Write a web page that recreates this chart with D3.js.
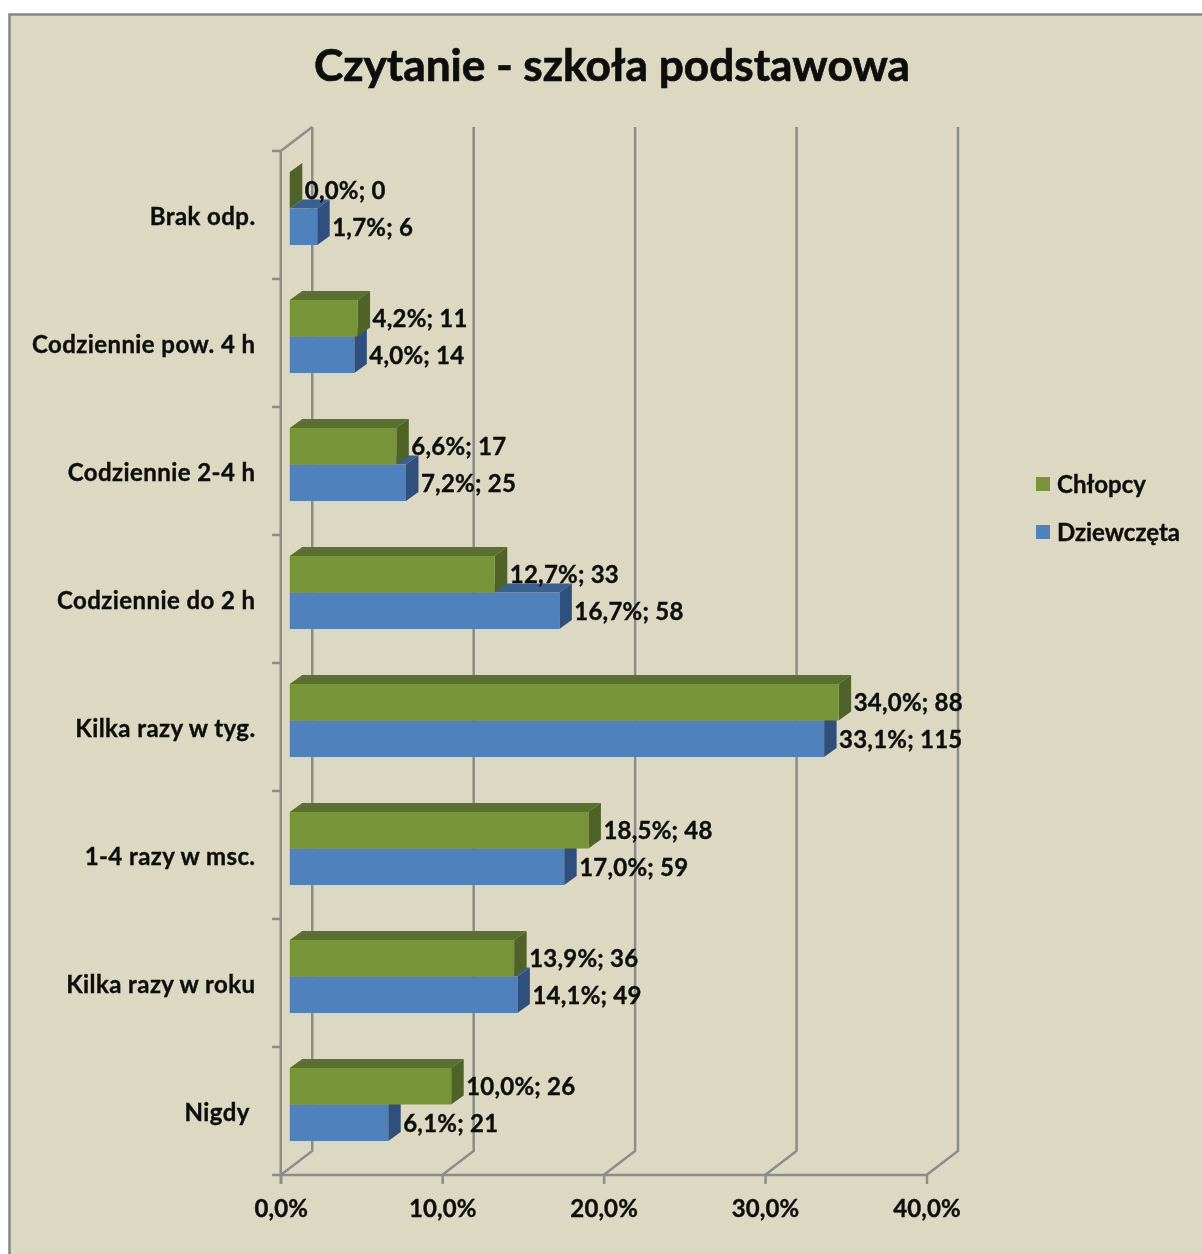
<!DOCTYPE html>
<html><head><meta charset="utf-8">
<script src="https://cdn.jsdelivr.net/npm/d3@7"></script>
<style>
html,body{margin:0;padding:0;background:#fff;overflow:hidden}
svg{display:block}
text{font-family:Lato,"Open Sans",sans-serif;font-weight:700;fill:#0b0b0b;white-space:pre;stroke:#0b0b0b;stroke-width:.35px;filter:url(#soft)}
</style></head><body>
<script>
const categories = ["Nigdy ","Kilka razy w roku","1-4 razy w msc.","Kilka razy w tyg.","Codziennie do 2 h","Codziennie 2-4 h","Codziennie pow. 4 h","Brak odp."];
const seriesNames = ["Chłopcy","Dziewczęta"];
const chlopcyPct = [10.0,13.9,18.5,34.0,12.7,6.6,4.2,0.0];
const chlopcyN = [26,36,48,88,33,17,11,0];
const dziewczetaPct = [6.1,14.1,17.0,33.1,16.7,7.2,4.0,1.7];
const dziewczetaN = [21,49,59,115,58,25,14,6];
const xTicks = [0,10,20,30,40];
const title = "Czytanie - szkoła podstawowa";

const W=1202,H=1254, dx=31.5, dy=-24, bdx=12.5, bdy=-9, barOff=9;
const pal={ "Chłopcy":{front:"#789439",side:"#4f6228",top:"#5a7030"},
            "Dziewczęta":{front:"#4f81bd",side:"#2f507c",top:"#3a6090"} };
const fmt=v=>v.toFixed(1).replace(".",",")+"%";

const svg=d3.select("body").append("svg").attr("width",W).attr("height",H);
svg.append("defs").append("filter").attr("id","soft").attr("x","-5%").attr("y","-20%").attr("width","110%").attr("height","140%")
   .append("feGaussianBlur").attr("stdDeviation",0.4);
svg.append("rect").attr("x",9.5).attr("y",14.5).attr("width",W+20).attr("height",H+20)
   .attr("fill","#ddd8c2").attr("stroke","#868686").attr("stroke-width",2.5);
svg.append("text").attr("x",612).attr("y",81).attr("text-anchor","middle").style("font-size","44.2px").style("stroke-width","0.7px").text(title);

const x=d3.scaleLinear().domain([0,40]).range([280.75,926.5]);
const yAxis=d3.scaleBand().domain(categories).range([1175,151]).padding(0);
const yBar=d3.scaleBand().domain(categories).range([1168.5,144.5]).paddingInner(0.43).paddingOuter(0.215);
const ySer=d3.scaleBand().domain(seriesNames).range([0,yBar.bandwidth()]);

const gridCol="#8c8c8c";
const grid=svg.append("g").attr("fill","none").attr("stroke",gridCol).attr("stroke-width",2.5);
const yTop=151,yBot=1175;
xTicks.forEach(t=>{
  grid.append("path").attr("d",d3.line()([[x(t),yBot],[x(t)+dx,yBot+dy],[x(t)+dx,yTop+dy]]));
});
grid.append("path").attr("d",d3.line()([[x(0),yTop],[x(0)+dx,yTop+dy]]));
grid.append("path").attr("d",d3.line()([[x(0),yTop],[x(0),yBot+9]]));
grid.append("path").attr("d",d3.line()([[x(0),yBot],[x(40),yBot]]));
const edges=categories.map(c=>yAxis(c)).concat([yBot]);
grid.selectAll("line.yt").data(edges).join("line").attr("class","yt")
  .attr("x1",272).attr("x2",x(0)).attr("y1",d=>d).attr("y2",d=>d);
const xa=svg.append("g").attr("transform",`translate(0,${yBot})`)
  .call(d3.axisBottom(x).tickValues(xTicks).tickSize(9).tickPadding(16).tickFormat(d=>fmt(d)));
xa.select(".domain").remove();
xa.selectAll("line").attr("stroke",gridCol).attr("stroke-width",2.5);
xa.selectAll("text").style("font-size","24px").style("letter-spacing","0.1px").attr("dy","0.71em").attr("fill","#0b0b0b");

svg.append("g").selectAll("text").data(categories).join("text")
  .attr("x",255.5).attr("y",d=>yAxis(d)+yAxis.bandwidth()/2).attr("text-anchor","end")
  .attr("dominant-baseline","central").style("font-size","24px").style("letter-spacing","0.42px").text(d=>d);

const px=v=>x(v)-x(0);
function box(g,name,pct,n){
  const col=pal[name];
  const data=categories.map((c,i)=>({c,v:pct[i],n:n[i]}));
  const gg=g.append("g").attr("class",name);
  const h=ySer.bandwidth();
  const X0=x(0)+barOff;
  gg.selectAll("path.top").data(data).join("path").attr("class","top").attr("fill",col.top)
    .attr("d",d=>{const y=yBar(d.c)+ySer(name),r=X0+px(d.v);
      return d3.line()([[X0,y],[X0+bdx,y+bdy],[r+bdx,y+bdy],[r,y]])+"Z";});
  gg.selectAll("path.side").data(data).join("path").attr("class","side").attr("fill",col.side)
    .attr("d",d=>{const y=yBar(d.c)+ySer(name),r=X0+px(d.v);
      return d3.line()([[r,y],[r+bdx,y+bdy],[r+bdx,y+bdy+h],[r,y+h]])+"Z";});
  gg.selectAll("rect").data(data).join("rect").attr("fill",col.front)
    .attr("x",X0).attr("y",d=>yBar(d.c)+ySer(name)).attr("width",d=>px(d.v)).attr("height",h);
  return data;
}
const barsG=svg.append("g");
const dz=box(barsG,"Dziewczęta",dziewczetaPct,dziewczetaN);
const ch=box(barsG,"Chłopcy",chlopcyPct,chlopcyN);
[["Chłopcy",ch,-0.8],["Dziewczęta",dz,0]].forEach(([name,data,off])=>{
  svg.append("g").selectAll("text").data(data).join("text")
    .attr("x",d=>x(0)+barOff+px(d.v)+bdx+2.5)
    .attr("y",d=>yBar(d.c)+ySer(name)+ySer.bandwidth()/2+off)
    .attr("dominant-baseline","central").style("font-size","24px").style("letter-spacing","0.22px")
    .text(d=>`${fmt(d.v)}; ${d.n}`);
});
const leg=svg.append("g").selectAll("g").data(seriesNames).join("g")
  .attr("transform",(d,i)=>`translate(1036,${[477,525][i]})`);
leg.append("rect").attr("width",14).attr("height",14).attr("fill",d=>pal[d].front);
leg.append("text").attr("x",21).attr("y",6).attr("dominant-baseline","central").style("font-size","24px").text(d=>d);
</script>
</body></html>
